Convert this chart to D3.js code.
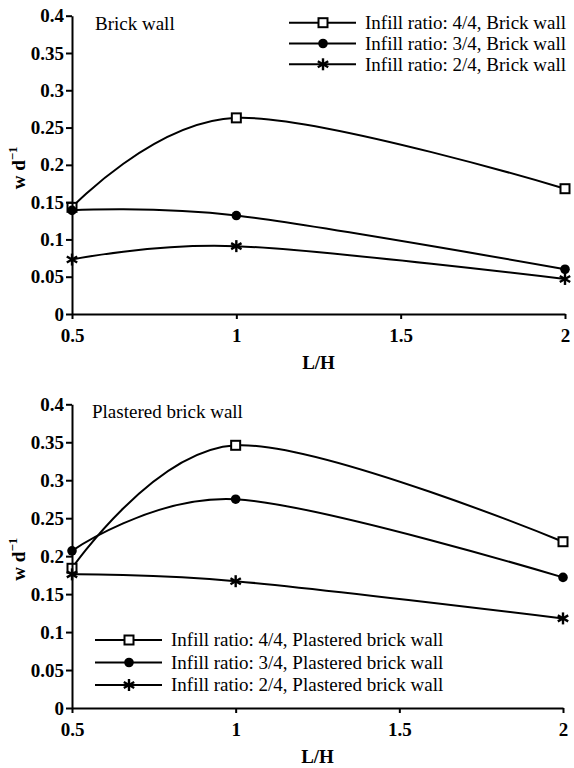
<!DOCTYPE html>
<html>
<head>
<meta charset="utf-8">
<script src="https://cdn.jsdelivr.net/npm/d3@7"></script>
<style>
  body { margin: 0; background: #fff; }
  svg { display: block; }
  .domain, .tick line { stroke: #000; stroke-width: 2; }
</style>
</head>
<body>
<svg width="574" height="768"></svg>
<script>
// L/H ratios on the x axis
var ratios = [0.5, 1, 2];
var xTicks = [0.5, 1, 1.5, 2];
var yTicks = [0, 0.05, 0.1, 0.15, 0.2, 0.25, 0.3, 0.35, 0.4];

var infill = ["4/4", "3/4", "2/4"];
var markers = ["square", "circle", "star"];

// w d^-1
var brick44 = [0.143, 0.263, 0.168];
var brick34 = [0.139, 0.132, 0.060];
var brick24 = [0.073, 0.091, 0.047];

var plast44 = [0.184, 0.346, 0.219];
var plast34 = [0.207, 0.275, 0.172];
var plast24 = [0.176, 0.167, 0.118];

var serif = "'Liberation Serif', 'Times New Roman', serif";
var svg = d3.select("svg");

function drawMarker(sel, type) {
  if (type == "square") {
    sel.append("rect")
      .attr("x", -4.5).attr("y", -4.5)
      .attr("width", 9).attr("height", 9)
      .attr("fill", "#fff").attr("stroke", "#000").attr("stroke-width", 2);
  } else if (type == "circle") {
    sel.append("circle").attr("r", 4.8).attr("fill", "#000");
  } else {
    [0, 60, 120].forEach(function(a) {
      sel.append("line")
        .attr("x1", 0).attr("y1", -6).attr("x2", 0).attr("y2", 6)
        .attr("transform", "rotate(" + a + ")")
        .attr("stroke", "#000").attr("stroke-width", 2.4);
    });
  }
}

function panel(opt) {
  var x = d3.scaleLinear().domain([0.5, 2]).range([opt.left, opt.right]);
  var y = d3.scaleLinear().domain([0, 0.4]).range([opt.bottom, opt.top]);
  var g = svg.append("g");

  var line = d3.line()
    .x(function(d, i) { return x(ratios[i]); })
    .y(function(d) { return y(d); })
    .curve(d3.curveCatmullRom.alpha(0));

  opt.series.forEach(function(s) {
    g.append("path")
      .attr("d", line(s))
      .attr("fill", "none")
      .attr("stroke", "#000")
      .attr("stroke-width", 2);
  });

  // markers on top of the lines
  opt.series.forEach(function(s, k) {
    s.forEach(function(v, i) {
      var m = g.append("g").attr("transform", "translate(" + x(ratios[i]) + "," + y(v) + ")");
      drawMarker(m, markers[k]);
    });
  });

  var xa = g.append("g")
    .attr("transform", "translate(0," + opt.bottom + ")")
    .call(d3.axisBottom(x).tickValues(xTicks).tickSize(5).tickSizeOuter(0).tickPadding(10)
      .tickFormat(function(d) { return String(d); }));

  var ya = g.append("g")
    .attr("transform", "translate(" + opt.left + ",0)")
    .call(d3.axisLeft(y).tickValues(yTicks).tickSize(6).tickSizeOuter(0).tickPadding(2)
      .tickFormat(function(d) { return String(+d.toFixed(2)); }));

  [xa, ya].forEach(function(a) {
    a.selectAll("text")
      .attr("font-family", serif)
      .attr("font-weight", "bold")
      .attr("font-size", 19)
      .attr("fill", "#000");
  });

  g.append("text")
    .attr("x", (opt.left + opt.right) / 2)
    .attr("y", opt.bottom + 55)
    .attr("text-anchor", "middle")
    .attr("font-family", serif)
    .attr("font-weight", "bold")
    .attr("font-size", 19)
    .text("L/H");

  var yl = g.append("text")
    .attr("transform", "translate(25," + ((opt.top + opt.bottom) / 2 + 3) + ") rotate(-90)")
    .attr("text-anchor", "middle")
    .attr("font-family", serif)
    .attr("font-weight", "bold")
    .attr("font-size", 19);
  yl.append("tspan").text("w d");
  yl.append("tspan").attr("dy", -8).attr("font-size", 13).text("\u22121");

  g.append("text")
    .attr("x", opt.titleX).attr("y", opt.titleY)
    .attr("font-family", serif)
    .attr("font-size", 19)
    .text(opt.title);

  var leg = g.append("g")
    .selectAll("g")
    .data(infill)
    .enter().append("g")
      .attr("transform", function(d, i) { return "translate(" + opt.legX + "," + (opt.legY + i * opt.legStep) + ")"; });

  leg.append("line")
    .attr("x1", 0).attr("x2", 67)
    .attr("stroke", "#000").attr("stroke-width", 2);

  leg.each(function(d, i) {
    var m = d3.select(this).append("g").attr("transform", "translate(34,0)");
    drawMarker(m, markers[i]);
  });

  leg.append("text")
    .attr("x", 76)
    .attr("dy", "0.33em")
    .attr("font-family", serif)
    .attr("font-size", 19)
    .text(function(d) { return "Infill ratio: " + d + ", " + opt.wall; });
}

panel({
  left: 72, right: 565, top: 15.7, bottom: 314,
  series: [brick44, brick34, brick24],
  title: "Brick wall", titleX: 95, titleY: 30,
  wall: "Brick wall", legX: 289, legY: 22.7, legStep: 20.8
});

panel({
  left: 72, right: 563, top: 404.3, bottom: 708,
  series: [plast44, plast34, plast24],
  title: "Plastered brick wall", titleX: 92, titleY: 418,
  wall: "Plastered brick wall", legX: 95, legY: 640, legStep: 22.5
});
</script>
</body>
</html>
